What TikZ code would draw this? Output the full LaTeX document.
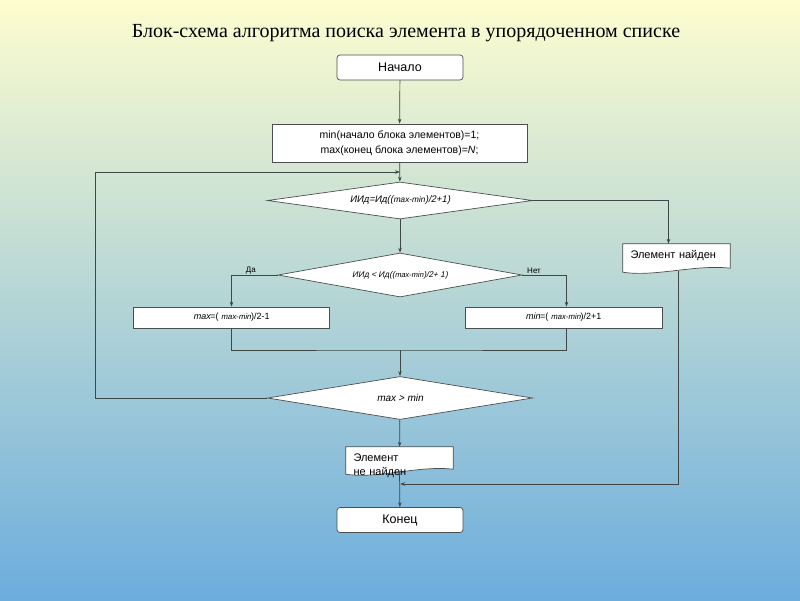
\documentclass[tikz,border=0pt]{standalone}
\usepackage{fontspec}
\setmainfont{Liberation Sans}
\newfontfamily\titlefont{Liberation Serif}
\newfontfamily\slfont[FakeSlant=0.2]{Liberation Sans}
\usetikzlibrary{shapes.geometric,arrows.meta}
\pgfdeclarelayer{back}
\pgfdeclarelayer{bg}
\pgfsetlayers{back,bg,main}
\definecolor{linec}{HTML}{3F4747}
\definecolor{boxc}{HTML}{4A4F4F}
\definecolor{bgtop}{HTML}{FDFDCF}
\definecolor{bgmid}{HTML}{B5D9CE}
\definecolor{bgbot}{HTML}{6CADDD}
\begin{document}
\begin{tikzpicture}[x=1pt,y=-1pt,
  conn/.style={draw=linec,line width=0.7pt},
  arr/.style={conn,-{Stealth[length=5pt,width=3.5pt]}},
  termbox/.style={draw=boxc,fill=white,line width=0.7pt,rounded corners=3pt,minimum width=126pt,minimum height=25pt,inner sep=0pt,font=\fontsize{12.5}{14}\selectfont},
  procbox/.style={draw=boxc,fill=white,line width=0.7pt,inner sep=0pt,align=center},
  decbox/.style={diamond,shape aspect=7,draw=boxc,fill=white,line width=0.7pt,inner sep=0pt,font=\fontsize{8.3}{9}\slfont},
  docnode/.style={inner xsep=7.5pt,inner ysep=0pt,align=left,font=\fontsize{11}{14}\selectfont},
  docshape/.style={draw=boxc,fill=white,line width=0.7pt},
  lbl/.style={font=\fontsize{8}{9}\selectfont,inner sep=1pt}]
\useasboundingbox (0,0) rectangle (800,600);
\begin{pgfonlayer}{back}
\shade[top color=bgtop,middle color=bgmid,bottom color=bgbot] (0,0) rectangle (800,600);
\end{pgfonlayer}

\node[font=\titlefont\fontsize{20}{23}\selectfont] (title) at (406,33) {Блок-схема алгоритма поиска элемента в упорядоченном списке};

\node[termbox] (start) at (400,67.5) {Начало};
\node[procbox,minimum width=255pt,minimum height=38pt,font=\fontsize{10.5}{15}\selectfont] (init) at (399.5,143) {min(начало блока элементов)=1;\\max(конец блока элементов)=\textit{N};};
\node[decbox,minimum width=265pt,minimum height=37pt,font=\fontsize{9.5}{10}\slfont] (d1) at (400,200.5) {ИИд=Ид(({\fontsize{8.3}{9}\selectfont max-min})/2+1)};
\node[decbox,minimum width=244pt,minimum height=44pt] (d2) at (400,275) {ИИд < Ид(({\fontsize{7.5}{8}\selectfont max-min})/2+ 1)};
\node[decbox,minimum width=265pt,minimum height=43pt,font=\fontsize{10}{11}\slfont] (d3) at (400,398) {max > min};
\node[procbox,minimum width=196pt,minimum height=21pt,font=\fontsize{9}{10}\selectfont] (maxb) at (231.5,317.5) {{\slfont max}=( {\fontsize{7.8}{8}\slfont max-min})/2-1};
\node[procbox,minimum width=197pt,minimum height=21pt,font=\fontsize{9}{10}\selectfont] (minb) at (563.5,317.5) {{\slfont min}=( {\fontsize{7.8}{8}\slfont max-min})/2+1};
\node[docnode,text width=92pt,minimum height=24pt] (found) at (676.5,256) {Элемент найден};
\node[docnode,text width=92pt,minimum height=22pt] (nf) at (399.5,458) {\raisebox{-10pt}[0pt][0pt]{\parbox{92pt}{Элемент\\не найден}}};
\node[termbox] (end) at (400,520) {Конец};

\begin{pgfonlayer}{bg}
\draw[docshape] (found.north west) -- (found.north east) -- (found.south east) .. controls +(-35,-4) and +(32,5) .. ([shift={(0,4)}]found.south west) -- cycle;
\draw[docshape] (nf.north west) -- (nf.north east) -- (nf.south east) .. controls +(-35,-4) and +(32,5) .. ([shift={(0,5)}]nf.south west) -- cycle;
\end{pgfonlayer}

\coordinate (loopc) at (95,172);
\coordinate (loopin) at (400,172);
\coordinate (mrg) at (400,350);
\coordinate (jn) at (400,484);

\draw[arr] (start) -- (init);
\draw[arr] (init) -- (d1);
\draw[arr] (d3.west) -| (loopc) -- (loopin);
\draw[arr] (d1) -- (d2);
\draw[arr] (d1.east) -| ([xshift=-8pt]found.north);
\draw[arr] (d2.west) -| (maxb.north) node[lbl,pos=0.29,anchor=south] (yes) {Да};
\draw[arr] (d2.east) -| ([xshift=3pt]minb.north) node[lbl,pos=0.04,anchor=south west] (no) {Нет};
\draw[conn] (maxb.south) |- (mrg) -| ([xshift=3pt]minb.south);
\draw[arr] (mrg) -- (d3);
\draw[arr] (d3) -- (nf);
\draw[arr] ([shift={(0,3)}]nf.south) -- (end);
\draw[arr] ([shift={(2,3)}]found.south) |- (jn);
\end{tikzpicture}
\end{document}
